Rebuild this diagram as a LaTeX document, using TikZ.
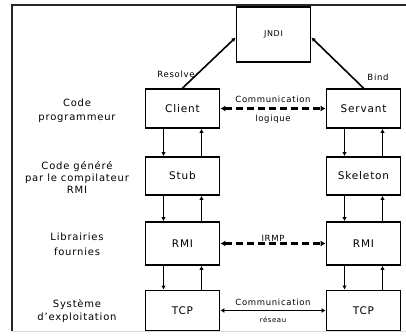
\documentclass[tikz,border=0pt]{standalone}
\usepackage{fontspec}
\setmainfont{DejaVu Sans}[LetterSpace=8]
\usetikzlibrary{arrows.meta}

\begin{document}
\begin{tikzpicture}[x=1pt, y=-1pt,
    layer/.style={draw, line width=1.8pt, minimum width=74pt, inner sep=0pt,
                  font=\fontsize{10.5}{12}\selectfont},
    side/.style={align=center, font=\fontsize{10}{14.5}\selectfont},
    tiny/.style={font=\fontsize{8.5}{10}\selectfont, inner sep=1pt},
    arr/.style={line width=1.6pt, -{Latex[length=4pt,width=4.5pt]}},
    dasharr/.style={line width=3pt, dash pattern=on 7pt off 4pt,
                    {Latex[length=5pt,width=6pt]}-{Latex[length=5pt,width=6pt]}},
    netarr/.style={line width=1.8pt, {Latex[length=4pt,width=5pt]}-{Latex[length=4pt,width=5pt]}}]

    \useasboundingbox (0,0) rectangle (406,335);

    % Frame (cut on the right)
    \draw[gray!30] (12,331) -- (406,331);
    \draw[line width=1.8pt, black!85] (12,331) -- (12,5) -- (406,5);

    % Naming service
    \node[layer, minimum height=55pt, font=\fontsize{8}{9}\selectfont] (jndi) at (273.5,34.5) {JNDI};

    % Client side and server side layers
    \foreach \lname/\rname/\ltext/\rtext/\y/\h in {
        client/servant/Client/Servant/108.5/39,
        stub/skel/Stub/Skeleton/176/38,
        rmil/rmir/RMI/RMI/243.5/43,
        tcpl/tcpr/TCP/TCP/310.5/40} {
        \node[layer, minimum height=\h pt] (\lname) at (182.5,\y) {\ltext};
        \node[layer, minimum height=\h pt] (\rname) at (363.5,\y) {\rtext};
    }

    % Calls going down and returns going up
    \foreach \a/\b in {client/stub, stub/rmil, rmil/tcpl, servant/skel, skel/rmir, rmir/tcpr} {
        \draw[arr] ([xshift=-19pt]\a.south) -- ([xshift=-19pt]\b.north);
        \draw[arr] ([xshift=19pt]\b.north) -- ([xshift=19pt]\a.south);
    }

    % Lookup and registration
    \draw[arr] (client.north) -- ([yshift=-3pt]jndi.west);
    \draw[arr] (servant.north) -- ([yshift=-3pt]jndi.east);
    \node[tiny] (resolve) at (176,74) {Resolve};
    \node[tiny] (bind) at (378,77) {Bind};

    % Communication between both sides
    \draw[dasharr] (client.east) -- (servant.west)
        node[tiny, midway, above=3pt] (comlog) {Communication}
        node[tiny, midway, below=4pt] (logique) {logique};
    \draw[dasharr] (rmil.east) -- (rmir.west)
        node[tiny, midway, yshift=5pt] (irmp) {IRMP};
    \draw[netarr] (tcpl.east) -- (tcpr.west)
        node[tiny, midway, above=3pt] (comres) {Communication}
        node[tiny, midway, below=4pt, font=\fontsize{7}{8}\selectfont] (reseau) {réseau};

    % Layer names
    \node[side] (lprog) at (77,110.5) {Code\\programmeur};
    \node[side, font=\fontsize{10}{12}\selectfont] (lgen) at (77,177) {Code généré\\par le compilateur\\RMI};
    \node[side] (llib) at (77,244.5) {Librairies\\fournies};
    \node[side, font=\fontsize{10}{13}\selectfont] (los) at (77,311.5) {Système\\d'exploitation};
\end{tikzpicture}
\end{document}
